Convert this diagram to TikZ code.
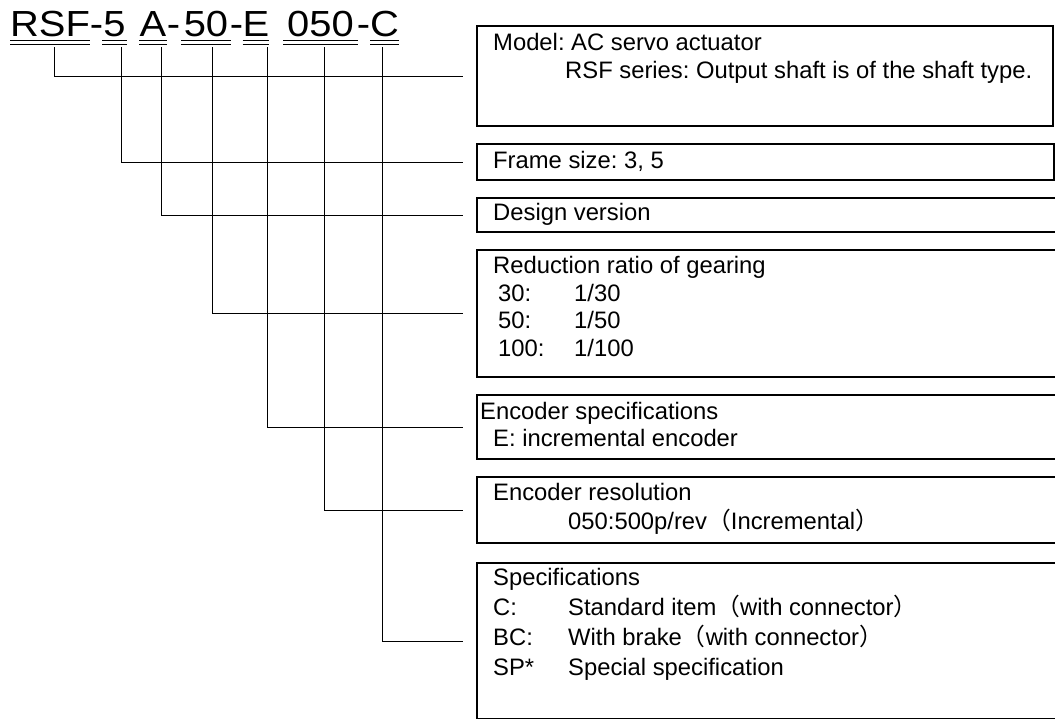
\documentclass[tikz,border=0pt]{standalone}
\usepackage{fontspec}
\setmainfont{Liberation Sans}
\newfontfamily\codefont[FakeStretch=1.1]{Liberation Sans}
\newfontfamily\cjk{Noto Sans CJK JP}
\usetikzlibrary{positioning, calc}

\begin{document}
\frenchspacing
\begin{tikzpicture}[
  x=1pt, y=-1pt,
  seg/.style={inner sep=0, outer sep=0, anchor=base, text depth=0pt, font=\codefont\fontsize{36.3}{36}\selectfont},
  hyph/.style={seg},
  specbox/.style={draw, line width=1.2pt, inner sep=0, outer sep=0, anchor=north west},
  desc/.style={inner sep=0, anchor=base west, align=left, font=\fontsize{23.8}{27.5}\selectfont},
  link/.style={line width=1pt},
  uline/.style={line width=0.9pt}
]
  \clip (0,0) rectangle (1055,718);

  % model code
  \node[seg, minimum width=80pt] (rsf) at (50,36) {RSF};
  \node[hyph] (h1) at (96.5,36) {-};
  \node[seg, minimum width=25pt] (frm) at (114.5,36) {5};
  \node[seg, minimum width=28pt] (ver) at (153,36) {A};
  \node[hyph] (h2) at (173.5,36) {-};
  \node[seg, minimum width=50pt] (red) at (206,36) {50};
  \node[hyph] (h3) at (236.5,36) {-};
  \node[seg, minimum width=26pt] (enc) at (256,36) {E};
  \node[seg, minimum width=75pt] (res) at (320.5,36) {050};
  \node[hyph] (h4) at (363.5,36) {-};
  \node[seg, minimum width=29pt] (spc) at (384.5,36) {C};

  \foreach \s in {rsf,frm,ver,red,enc,res,spc} {
    \draw[uline] ([yshift=-4.7pt]\s.south west) -- ([yshift=-4.7pt]\s.south east);
    \draw[uline] ([yshift=-8pt]\s.south west) -- ([yshift=-8pt]\s.south east);
  }

  % boxes
  \node[specbox, minimum width=576pt, minimum height=100pt] (model) at (477,26) {};
  \node[specbox, minimum width=577pt, minimum height=36pt] (frame) at (477,144) {};
  \node[specbox, minimum width=590pt, minimum height=34pt] (design) at (477,198) {};
  \node[specbox, minimum width=590pt, minimum height=127pt] (ratio) at (477,250) {};
  \node[specbox, minimum width=590pt, minimum height=64pt] (encoder) at (477,395) {};
  \node[specbox, minimum width=590pt, minimum height=66pt] (resol) at (477,477) {};
  \node[specbox, minimum width=590pt, minimum height=156pt] (spec) at (477,563) {};

  % texts (base = last line)
  \node[desc] (modeltxt) at ([shift={(16,52)}]model.north west)
    {Model: AC servo actuator\\\hspace*{72pt}RSF series: Output shaft is of the shaft type.};
  \node[desc] (frametxt) at ([shift={(16,24)}]frame.north west) {Frame size: 3, 5};
  \node[desc] (designtxt) at ([shift={(16,22.7)}]design.north west) {Design version};
  \node[desc] (ratiotxt) at ([shift={(16,106)}]ratio.north west)
    {Reduction ratio of gearing\\
     \hspace*{5pt}\makebox[76pt][l]{30:}1/30\\
     \hspace*{5pt}\makebox[76pt][l]{50:}1/50\\
     \hspace*{5pt}\makebox[76pt][l]{100:}1/100};
  \node[desc] (encodertxt) at ([shift={(3,51.7)}]encoder.north west)
    {Encoder specifications\\\hspace*{13pt}E: incremental encoder};
  \node[desc, font=\fontsize{23.8}{29}\selectfont] (resoltxt) at ([shift={(16,52)}]resol.north west)
    {Encoder resolution\\\hspace*{75pt}050:500p/rev{\cjk （}Incremental{\cjk ）}};
  \node[desc, font=\fontsize{23.8}{30}\selectfont] (spectxt) at ([shift={(16,112)}]spec.north west)
    {Specifications\\
     \makebox[75pt][l]{C:}Standard item{\cjk （}with connector{\cjk ）}\\
     \makebox[75pt][l]{BC:}With brake{\cjk （}with connector{\cjk ）}\\
     \makebox[75pt][l]{SP*}Special specification};

  % links
  \foreach \s/\dx/\b in {rsf/4/model, frm/6.5/frame, ver/8/design, red/6.7/ratio,
                         enc/11.7/encoder, res/3.5/resol, spc/-1.8/spec}
    \draw[link] ([xshift=\dx pt, yshift=-11pt]\s.south) |- ([xshift=-14pt]\b.west);
\end{tikzpicture}
\end{document}
